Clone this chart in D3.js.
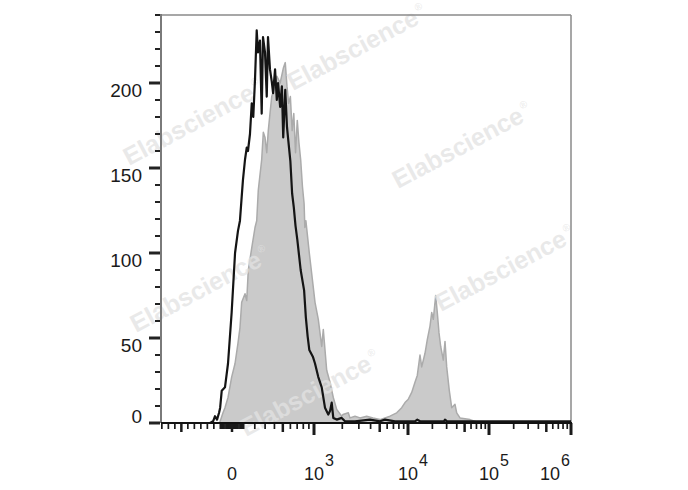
<!DOCTYPE html>
<html><head><meta charset="utf-8">
<script src="https://cdn.jsdelivr.net/npm/d3@7"></script>
<style>html,body{margin:0;padding:0;background:#fff;} svg{display:block;}</style>
</head><body><svg id="c" width="688" height="490"></svg>
<script>
// ---- data (fluorescence value, event count) ----
const blackX = [-1010,-335,-258,-212,-182,-151,-120,-103,-88,-60,-34,-3,26,51,68,83,94,112,127,138,156,172,186,202,218,230,249,266,279,299,317,330,351,370,385,407,427,442,467,488,505,531,554,572,600,625,649,675,702,756,814,845,877,908,977,1025,1111,1208,1309,1419,1480,1543,1604,1744,1971,2137,2731,3941,5037,5692,7272,12200,13027,14064,27826,28630,30303,1000000];
const blackY = [0,0,0,1,4,2,6,9,19,21,35,65,100,113,119,133,143,155,162,160,170,188,180,202,231,218,225,182,227,218,192,227,208,201,194,208,190,200,186,198,168,196,174,166,154,135,127,116,108,90,78,62,51,43,39,35,27,21,9,5,7,12,3,2,3,1,1,2,1,2,1,1,2,1,1,2,1,1];
const grayX = [-1010,-120,-103,-77,-60,-34,-3,26,51,68,83,112,127,141,172,202,218,233,266,282,299,317,333,351,370,407,427,467,508,531,554,576,600,625,649,675,702,728,756,786,814,827,845,908,977,1025,1111,1208,1256,1365,1480,1604,1744,1971,2034,2317,2415,2731,3086,3636,4243,5037,6435,7583,8570,9293,10086,11110,12200,13027,14064,14765,16218,17310,18688,19615,20526,21978,22996,24138,25334,27283,28630,30048,32355,34630,38033,39918,43853,58286,77400,1000000];
const grayY = [0,0,1,6,9,15,27,35,47,56,71,76,72,90,103,115,119,137,155,171,168,159,172,182,192,198,204,200,209,212,198,188,192,172,182,159,178,165,155,139,129,115,119,100,82,71,61,45,55,31,24,15,8,4,5,6,3,4,3,4,3,2,4,6,9,12,14,18,24,28,40,33,41,49,57,65,61,75,65,53,45,37,48,33,19,9,11,6,3,2,0,0];

// ---- ticks & labels ----
const yTickValues = [0,10,20,30,40,50,60,70,80,90,100,110,120,130,140,150,160,170,180,190,200,210,220,230,240];
const yMajorValues = [0,50,100,150,200];
const yLabels = ["0","50","100","150","200"];
const xMajorTicks = [1000,10000,100000,1000000];
const xMidTicks = [-700,0,500,5000,50000,500000];
const xMinorTicks = [-1000,-900,-800,-600,-500,-400,-300,-200,
  -100,-90,-80,-70,-60,-50,-40,-30,-20,-10,10,20,30,40,50,60,70,80,90,100,
  200,300,400,600,700,800,900,
  2000,3000,4000,6000,7000,8000,9000,
  20000,30000,40000,60000,70000,80000,90000,
  200000,300000,400000,600000,700000,800000,900000];
const xLabelValues = [0,1000,10000,100000,1000000];
const xLabelBase = ["0","10","10","10","10"];
const xLabelExp = ["","3","4","5","6"];
const watermarkText = "Elabscience";

// ---- layout ----
const P = {left:161, right:571, top:15, bottom:423};
const svg = d3.select("#c");
const y = d3.scaleLinear().domain([0,240]).range([P.bottom, P.top]);

// biexponential-like display transform
const C = 460, A = Math.asinh(1000/C);
function tf(v){
  if (v >= 1000) return Math.log10(v);
  if (v >= -100) return 3*Math.asinh(v/C)/A;
  return 3*Math.asinh(-100/C)/A + (v+100)*0.002378;
}
const x0px = 232, x3px = 314;
const tMin = tf(-1010);
const xs = d3.scaleLinear()
  .domain([tMin, 0, 3, 4, 5, 6])
  .range([x0px + tMin*(x3px-x0px)/3, x0px, x3px, 408, 489, P.right]);
const x = v => xs(tf(v));

const font = "'Liberation Sans', Arial, Helvetica, sans-serif";

// gray filled histogram
const grayData = grayX.map((v,i)=>[v, grayY[i]]);
const blackData = blackX.map((v,i)=>[v, blackY[i]]);
svg.append("path").datum(grayData)
  .attr("d", d3.area().x(d=>x(d[0])).y0(y(0)).y1(d=>y(d[1])))
  .attr("fill", "#cacaca");
svg.append("path").datum(grayData)
  .attr("d", d3.line().x(d=>x(d[0])).y(d=>y(d[1])))
  .attr("fill", "none").attr("stroke", "#ababab").attr("stroke-width", 1.5)
  .attr("stroke-linejoin","round");

// watermarks
const wmPos = [[129,166],[293,91],[398,189],[136,333],[441,312],[246,437]];
const wm = svg.append("g");
wmPos.forEach(p=>{
  const t = wm.append("text")
    .attr("transform", `translate(${p[0]},${p[1]}) rotate(-28)`)
    .attr("font-family", font).attr("font-weight","bold").attr("font-size", 25)
    .attr("fill", "rgb(226,226,226)").attr("fill-opacity", 0.75);
  t.append("tspan").text(watermarkText);
  t.append("tspan").attr("dy", -12).attr("dx", 2).attr("font-size", 10).attr("font-weight","normal").text("®");
});

// frame
svg.append("line").attr("x1",P.left).attr("x2",P.right).attr("y1",P.top).attr("y2",P.top)
  .attr("stroke","#8a8a8a").attr("stroke-width",1.5);
svg.append("line").attr("x1",P.right).attr("x2",P.right).attr("y1",P.top).attr("y2",P.bottom)
  .attr("stroke","#8a8a8a").attr("stroke-width",1.5);
svg.append("line").attr("x1",P.left).attr("x2",P.left).attr("y1",P.top-1).attr("y2",P.bottom)
  .attr("stroke","#7a7a7a").attr("stroke-width",2);

// y ticks
svg.append("g").selectAll("line").data(yTickValues).join("line")
  .attr("x1", d => yMajorValues.includes(d) ? P.left-12 : P.left-6)
  .attr("x2", P.left-1)
  .attr("y1", d=>y(d)).attr("y2", d=>y(d))
  .attr("stroke","#222")
  .attr("stroke-width", d => yMajorValues.includes(d) ? 3 : 2);
svg.append("g").selectAll("text").data(yMajorValues).join("text")
  .attr("x", 142)
  .attr("y", d => Math.min(y(d)+14, y(0)))
  .attr("text-anchor","end")
  .attr("font-family", font).attr("font-size", 19).attr("fill","#1a1a1a")
  .text((d,i)=>yLabels[i]);

// x ticks
function xTicks(vals, len, w){
  svg.append("g").selectAll("line").data(vals).join("line")
    .attr("x1", d=>x(d)).attr("x2", d=>x(d))
    .attr("y1", P.bottom).attr("y2", P.bottom+len)
    .attr("stroke","#1a1a1a").attr("stroke-width", w);
}
xTicks(xMinorTicks, 6, 1.7);
xTicks(xMidTicks, 9, 2.5);
xTicks(xMajorTicks, 12, 3);

// bottom axis line
svg.append("line").attr("x1",P.left).attr("x2",P.right+1).attr("y1",P.bottom).attr("y2",P.bottom)
  .attr("stroke","#111").attr("stroke-width",2);

// x labels
xLabelValues.forEach((v,i)=>{
  const t = svg.append("text").attr("y", 480)
    .attr("font-family", font).attr("font-size", 18).attr("fill","#1a1a1a");
  const b = t.append("tspan").text(xLabelBase[i]);
  if (xLabelExp[i]) {
    t.append("tspan").attr("dy", -14).attr("dx", 1).attr("font-size", 16).text(xLabelExp[i]);
  }
  const wb = b.node().getComputedTextLength();
  const wa = t.node().getComputedTextLength() + (xLabelExp[i] ? 1 : 0);
  let left = x(v) - wb/2;
  if (left + wa > P.right - 1) left = P.right - 1 - wa;
  t.attr("x", left);
});

// black line histogram
svg.append("path").datum(blackData)
  .attr("d", d3.line().x(d=>x(d[0])).y(d=>y(d[1])))
  .attr("fill","none").attr("stroke","#141414").attr("stroke-width",2.2)
  .attr("stroke-linejoin","round");
</script>
</body></html>
